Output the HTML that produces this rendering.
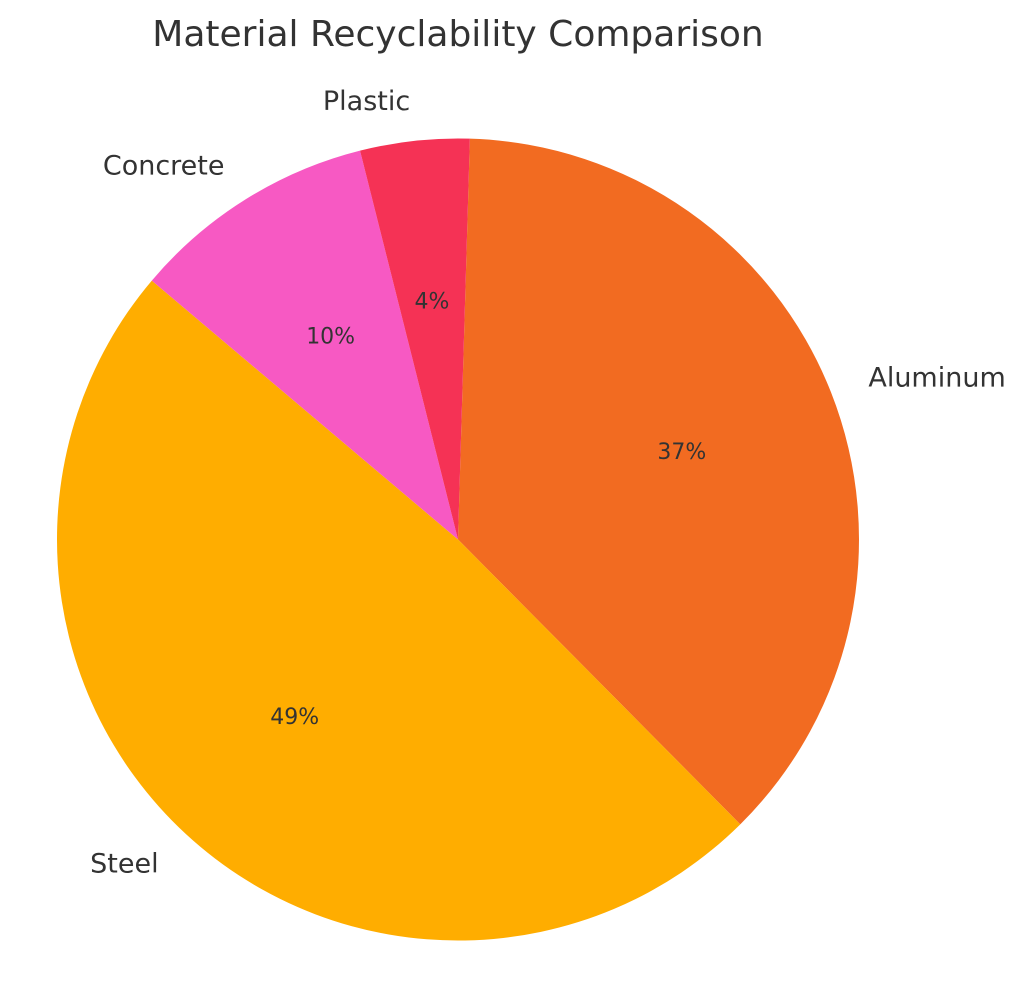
<!DOCTYPE html>
<html><head><meta charset="utf-8"><style>
html,body{margin:0;padding:0;background:#fff;}
svg{display:block;font-family:"DejaVu Sans","Liberation Sans",sans-serif;}
</style></head><body>
<svg id="chart" width="1024" height="995" viewBox="0 0 1024 995">
<text x="458" y="46" text-anchor="middle" font-size="36" fill="#333">Material Recyclability Comparison</text>
<g id="slices"></g>
</svg>
<script>
const categories = ["Aluminum", "Steel", "Concrete", "Plastic"];
const values = [37.1, 48.6, 9.9, 4.4];
const colors = ["#F26B21", "#FFAD00", "#F759C3", "#F53255"];

const cx = 458, cy = 539.5, r = 401, startDeg = 1.7;
const g = document.getElementById('slices');
const ns = 'http://www.w3.org/2000/svg';
const total = values.reduce((a,b)=>a+b,0);
function pt(deg, rad){const a=deg*Math.PI/180;return [cx+rad*Math.sin(a), cy-rad*Math.cos(a)];}
let acc = startDeg;
values.forEach((v,i)=>{
  const span = v/total*360;
  const a0 = acc, a1 = acc+span; acc = a1;
  const p0 = pt(a0,r), p1 = pt(a1,r);
  const path = document.createElementNS(ns,'path');
  path.setAttribute('d',`M${cx},${cy} L${p0[0]},${p0[1]} A${r},${r} 0 ${span>180?1:0} 1 ${p1[0]},${p1[1]} Z`);
  path.setAttribute('fill',colors[i]);
  
  
  g.appendChild(path);
  const mid = (a0+a1)/2;
  const pp = pt(mid, r*0.6);
  const t = document.createElementNS(ns,'text');
  t.setAttribute('x',pp[0]); t.setAttribute('y',pp[1]+8);
  t.setAttribute('text-anchor','middle'); t.setAttribute('font-size','22'); t.setAttribute('fill','#333');
  t.textContent = Math.round(v/total*100)+'%';
  
  
  g.appendChild(t);
  const lp = pt(mid, r*1.1);
  const l = document.createElementNS(ns,'text');
  l.setAttribute('x',lp[0]); l.setAttribute('y',lp[1]+9);
  l.setAttribute('text-anchor', lp[0]>=cx ? 'start' : 'end');
  l.setAttribute('font-size','27'); l.setAttribute('fill','#333');
  l.textContent = categories[i];
  
  
  g.appendChild(l);
});
</script>
</body></html>
